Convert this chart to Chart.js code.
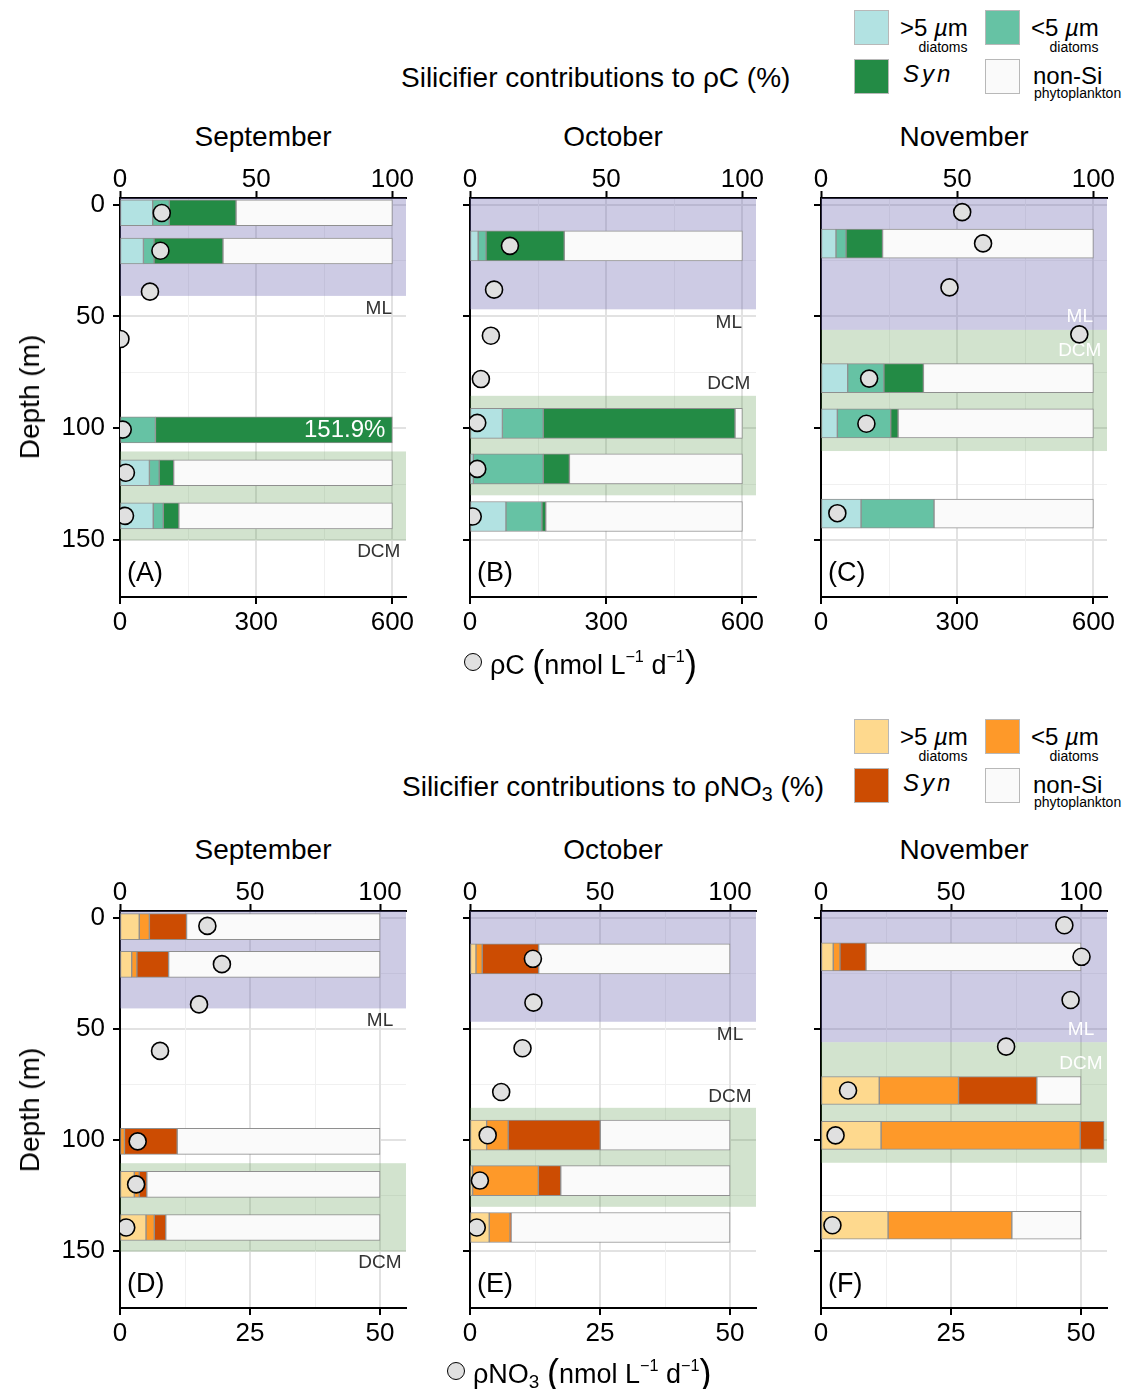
<!DOCTYPE html>
<html>
<head>
<meta charset="utf-8">
<script src="https://cdn.jsdelivr.net/npm/chart.js@4.4.1/dist/chart.umd.min.js"></script>
<style>
  body { margin: 0; width: 1129px; height: 1389px; position: relative; background: #fff; overflow: hidden;
         font-family: "Liberation Sans", Arial, Helvetica, sans-serif; color: #000; }
  canvas { position: absolute; }
  .t { position: absolute; white-space: nowrap; line-height: 1; }
  .box { position: absolute; width: 33px; height: 33px; border: 1px solid #b8b8b8; }
  .dot { position: absolute; width: 16px; height: 16px; border-radius: 50%; background: #e0e0e0; border: 1.6px solid #000; }
  .bp { font-size: 36px; position: relative; top: 2px; font-weight: 300; }
  sup { font-size: 60%; vertical-align: 0.75em; line-height: 0; }
  sub { font-size: 70%; vertical-align: -0.25em; line-height: 0; }
</style>
</head>
<body>
<script>
// ---- data ----
const months = ['September', 'October', 'November'];
const letters = [['(A)', '(B)', '(C)'], ['(D)', '(E)', '(F)']];
const categories = ['>5 µm diatoms', '<5 µm diatoms', 'Syn', 'non-Si phytoplankton'];
const pcColors = ['#b2e2e2', '#66c2a4', '#238b45', '#fafafa'];
const pnColors = ['#fed98e', '#fe9929', '#cc4c02', '#fafafa'];

// tick labels
const depthTicks = [0, 25, 50, 75, 100, 125, 150];
const depthLabels = [0, 50, 100, 150];
const pctTicks = [0, 50, 100];
const pcRateTicks = [0, 150, 300, 450, 600];
const pcRateLabels = [0, 300, 600];
const pnRateTicks = [0, 12.5, 25, 37.5, 50];
const pnRateLabels = [0, 25, 50];

// rhoC: contributions (%) per sampled depth, one inner array per month
const pcBarDepth = [[3.6, 20.7, 100.7, 119.9, 139.2], [18.4, 97.8, 118.2, 139.5], [17.4, 77.6, 97.8, 138.2]];
const pcLarge = [[12.0, 8.6, 0, 10.8, 12.2], [3.0, 11.9, 1.2, 13.2], [5.5, 9.8, 6.0, 14.7]];
const pcSmall = [[6.1, 3.9, 13.0, 3.6, 3.7], [2.9, 15.0, 25.7, 13.2], [3.7, 13.3, 19.6, 26.8]];
const pcSyn = [[24.5, 25.3, 87.0, 5.3, 5.7], [28.7, 70.4, 9.6, 1.4], [13.4, 14.5, 2.7, 0]]; // 100 m Sept is cut at 100 %
const pcNonSi = [[57.4, 62.2, 0, 80.3, 78.4], [65.4, 2.7, 63.5, 72.2], [77.4, 62.4, 71.7, 58.5]];
const pcTotalText = [[null, null, '151.9%', null, null], [null, null, null, null], [null, null, null, null]];
// rhoC rates (nmol L-1 d-1)
const pcRateDepth = [[3.7, 20.6, 38.9, 60.1, 100.6, 119.9, 139.2], [18.4, 38, 58.6, 78, 97.6, 118.2, 139.5], [3.3, 17.3, 37, 58, 77.8, 98, 138]];
const pcRate = [[92, 89, 66, 1, 6, 13, 11], [88, 53, 46, 24, 16, 16, 6], [311, 357, 283, 569, 106, 100, 36]];

// rhoNO3: contributions (%)
const pnBarDepth = [[4.0, 21.0, 100.6, 119.9, 139.3], [18.5, 97.8, 118.2, 139.3], [17.6, 77.7, 97.9, 138.3]];
const pnLarge = [[7.4, 4.5, 0, 5.5, 10.0], [2.3, 6.4, 1.0, 7.4], [4.7, 22.4, 23.1, 25.8]];
const pnSmall = [[3.9, 2.0, 1.7, 1.9, 3.2], [2.4, 8.3, 25.3, 8.0], [2.6, 30.5, 76.6, 47.6]];
const pnSyn = [[14.3, 12.2, 20.3, 2.9, 4.4], [21.7, 35.4, 8.6, 0.4], [10.0, 30.1, 9.2, 0]];
const pnNonSi = [[74.4, 81.3, 78.0, 89.7, 82.4], [73.6, 49.9, 65.1, 84.2], [82.7, 17.0, 0, 26.6]];
// rhoNO3 rates (nmol L-1 d-1)
const pnRateDepth = [[3.7, 20.9, 39, 59.9, 100.6, 119.9, 139.3], [18.5, 38.2, 58.7, 78.4, 97.8, 118.2, 139.3], [3.4, 17.6, 37, 58, 77.7, 97.9, 138.3]];
const pnRate = [[16.8, 19.6, 15.2, 7.7, 3.4, 3.1, 1.2], [12.1, 12.2, 10.1, 6.0, 3.4, 1.9, 1.3], [46.8, 50.1, 48.0, 35.6, 5.2, 2.8, 2.2]];

// mixed layer and DCM layers (m)
const mlBottom = [40.8, 46.8, 56];
const dcmTop = [110.4, 85.5, 56];
const dcmBottom = [150.1, 130, 110.2];
const mlLabelDepth = [46.5, 52.6, 50.3];
const dcmLabelDepth = [155.3, 80.3, 65.5];

// ---- layout ----
const FONT = '"Liberation Sans", Arial, Helvetica, sans-serif';
const panelLeft = [120, 470, 821];
const panelWidth = 286;
const rowTop = [198, 911];
const rowHeight = [399, 397];

const layers = {
  id: 'layers',
  beforeDatasetsDraw(chart, args, o) {
    const { ctx, chartArea: a, scales } = chart;
    const y = scales.y;
    ctx.save();
    ctx.fillStyle = 'rgba(117,112,179,0.36)';
    const ml = y.getPixelForValue(o.ml);
    ctx.fillRect(a.left, a.top, a.right - a.left, ml - a.top);
    ctx.fillStyle = 'rgba(95,155,80,0.28)';
    const t = y.getPixelForValue(o.dcm[0]);
    const b = y.getPixelForValue(o.dcm[1]);
    ctx.fillRect(a.left, t, a.right - a.left, b - t);
    ctx.font = '19px ' + FONT;
    ctx.fillStyle = o.labelColor;
    ctx.textAlign = 'center';
    ctx.textBaseline = 'middle';
    const x = scales.xr.getPixelForValue(o.labelX);
    ctx.fillText('ML', x, y.getPixelForValue(o.mlLabel));
    ctx.fillText('DCM', x, y.getPixelForValue(o.dcmLabel));
    ctx.restore();
  },
  afterDatasetsDraw(chart, args, o) {
    const { ctx, chartArea: a, scales } = chart;
    ctx.save();
    ctx.textBaseline = 'middle';
    ctx.font = '27px ' + FONT;
    ctx.fillStyle = '#000';
    ctx.textAlign = 'left';
    ctx.fillText(o.letter, a.left + 7, a.bottom - 23);
    ctx.font = '24px ' + FONT;
    ctx.fillStyle = '#fff';
    ctx.textAlign = 'right';
    o.totals.forEach((txt, i) => {
      if (txt) ctx.fillText(txt, scales.xp.getPixelForValue(100) - 7, scales.y.getPixelForValue(o.barDepth[i]) + 1);
    });
    ctx.restore();
  }
};

function makePanel(m, row) {
  const pc = row === 0;
  const barDepth = (pc ? pcBarDepth : pnBarDepth)[m];
  const segs = pc ? [pcLarge[m], pcSmall[m], pcSyn[m], pcNonSi[m]] : [pnLarge[m], pnSmall[m], pnSyn[m], pnNonSi[m]];
  const colors = pc ? pcColors : pnColors;
  const ptDepth = (pc ? pcRateDepth : pnRateDepth)[m];
  const rate = (pc ? pcRate : pnRate)[m];
  const rateTicks = pc ? pcRateTicks : pnRateTicks;
  const rateLabels = pc ? pcRateLabels : pnRateLabels;
  const thickness = pc ? [26, 30, 29][m] : [26, 30, 28][m];

  const cv = document.createElement('canvas');
  const w = 430, h = 40 + rowHeight[row] + 46;
  cv.width = w; cv.height = h;
  cv.style.width = w + 'px'; cv.style.height = h + 'px';
  cv.style.left = (panelLeft[m] - 120) + 'px';
  cv.style.top = (rowTop[row] - 40) + 'px';
  document.body.appendChild(cv);

  const tickFont = { family: FONT, size: 26 };
  const major = (c, list) => c.tick && list.includes(c.tick.value);

  const datasets = segs.map((vals, k) => ({
    label: categories[k],
    indexAxis: 'y',
    xAxisID: 'xp',
    yAxisID: 'y',
    stack: 'contrib',
    data: barDepth.map((d, i) => ({ x: vals[i], y: d })),
    backgroundColor: colors[k],
    borderColor: '#8f8f8f',
    borderWidth: 1,
    borderSkipped: false,
    barThickness: thickness,
    order: 1
  }));
  datasets.push({
    type: 'scatter',
    label: 'rate',
    xAxisID: 'xr',
    yAxisID: 'y',
    data: ptDepth.map((d, i) => ({ x: rate[i], y: d })),
    pointRadius: 8.5,
    pointBackgroundColor: '#e0e0e0',
    pointBorderColor: '#000',
    pointBorderWidth: 1.6,
    order: 0
  });

  new Chart(cv, {
    type: 'bar',
    data: { datasets },
    plugins: [layers],
    options: {
      indexAxis: 'y',
      responsive: false,
      animation: false,
      layout: { padding: { right: 24, left: 0, top: 0, bottom: 0 } },
      plugins: {
        legend: { display: false },
        tooltip: { enabled: false },
        layers: {
          ml: mlBottom[m], dcm: [dcmTop[m], dcmBottom[m]],
          mlLabel: mlLabelDepth[m], dcmLabel: dcmLabelDepth[m],
          labelColor: m === 2 ? '#ffffff' : '#333333',
          labelX: pc ? 570 : 50,
          letter: letters[row][m],
          totals: pc ? pcTotalText[m] : [],
          barDepth
        }
      },
      scales: {
        y: {
          type: 'linear', position: 'left', reverse: true, min: -3, max: 175.5,
          offset: false,
          afterBuildTicks: s => { s.ticks = depthTicks.map(v => ({ value: v })); },
          afterFit: s => { s.width = 120; },
          ticks: { display: m === 0, font: tickFont, color: '#000', padding: 8,
                   callback: v => depthLabels.includes(v) ? v : '' },
          grid: {
            offset: false,
            color: c => major(c, depthLabels) ? '#e2e2e2' : '#f0f0f0',
            lineWidth: c => major(c, depthLabels) ? 2 : 1,
            tickColor: c => major(c, depthLabels) ? '#000' : 'rgba(0,0,0,0)',
            tickLength: 7, tickWidth: 2
          },
          border: { display: true, color: '#000', width: 2 }
        },
        xp: {
          type: 'linear', position: 'top', min: 0, max: pc ? 105 : 110, stacked: true,
          offset: false,
          afterBuildTicks: s => { s.ticks = pctTicks.map(v => ({ value: v })); },
          afterFit: s => { s.height = 40; },
          ticks: { font: tickFont, color: '#000', padding: -4, maxRotation: 0, autoSkip: false },
          grid: { offset: false, drawOnChartArea: false, tickColor: '#000', tickLength: 7, tickWidth: 2 },
          border: { display: true, color: '#000', width: 2 }
        },
        xr: {
          type: 'linear', position: 'bottom', min: 0, max: pc ? 630 : 55,
          offset: false,
          afterBuildTicks: s => { s.ticks = rateTicks.map(v => ({ value: v })); },
          afterFit: s => { s.height = 46; },
          ticks: { font: tickFont, color: '#000', padding: 3, maxRotation: 0, autoSkip: false,
                   callback: v => rateLabels.includes(v) ? v : '' },
          grid: {
            offset: false,
            color: c => major(c, rateLabels) ? '#e2e2e2' : '#f0f0f0',
            lineWidth: c => major(c, rateLabels) ? 2 : 1,
            tickColor: c => major(c, rateLabels) ? '#000' : 'rgba(0,0,0,0)',
            tickLength: 7, tickWidth: 2
          },
          border: { display: true, color: '#000', width: 2 }
        }
      }
    }
  });
}

for (let row = 0; row < 2; row++) for (let m = 0; m < 3; m++) makePanel(m, row);

// ---- text, legends and axis titles ----
function txt(html, x, y, size, align, extra) {
  const d = document.createElement('div');
  d.className = 't';
  d.innerHTML = html;
  d.style.left = x + 'px';
  d.style.top = y + 'px';
  d.style.fontSize = size + 'px';
  const tx = align === 'center' ? '-50%' : align === 'right' ? '-100%' : '0';
  d.style.transform = `translate(${tx}, -50%)` + (extra || '');
  document.body.appendChild(d);
  return d;
}
function box(x, y, color) {
  const d = document.createElement('div');
  d.className = 'box';
  d.style.left = x + 'px'; d.style.top = y + 'px'; d.style.background = color;
  document.body.appendChild(d);
}

[0, 1].forEach(row => {
  const off = row === 0 ? 0 : 709;
  const colors = row === 0 ? pcColors : pnColors;
  box(854, 10 + off, colors[0]);
  box(985, 10 + off, colors[1]);
  box(854, 59 + off, colors[2]);
  box(985, 59 + off, colors[3]);
  txt('&gt;5 <i>µ</i>m', 900, 28 + off, 24, 'left');
  txt('diatoms', 943, 47 + off, 14, 'center');
  txt('&lt;5 <i>µ</i>m', 1031, 28 + off, 24, 'left');
  txt('diatoms', 1074, 47 + off, 14, 'center');
  txt('<i style="letter-spacing:3px">Syn</i>', 903, 74 + off, 24, 'left');
  txt('non-Si', 1033, 76 + off, 24, 'left');
  txt('phytoplankton', 1034, 93 + off, 14, 'left');
  months.forEach((mo, m) => txt(mo, panelLeft[m] + panelWidth / 2, (row === 0 ? 137 : 850), 28, 'center'));
  txt('Depth (m)', 30, row === 0 ? 397 : 1110, 28, 'center', ' rotate(-90deg)');
});
txt('Silicifier contributions to ρC (%)', 401, 78, 28, 'left');
txt('Silicifier contributions to ρNO<sub>3</sub> (%)', 402, 787, 28, 'left');

function rateTitle(cx, cy, html) {
  const d = document.createElement('div');
  d.className = 'dot';
  d.style.left = (cx - 9.6) + 'px'; d.style.top = (cy - 9.6) + 'px';
  document.body.appendChild(d);
  txt(html, cx + 16, cy - 1, 27, 'left');
}
rateTitle(474, 663, 'ρC <span class="bp">(</span>nmol L<sup>−1</sup> d<sup>−1</sup><span class="bp">)</span>');
rateTitle(457, 1372, 'ρNO<sub>3</sub> <span class="bp">(</span>nmol L<sup>−1</sup> d<sup>−1</sup><span class="bp">)</span>');
</script>
</body>
</html>
